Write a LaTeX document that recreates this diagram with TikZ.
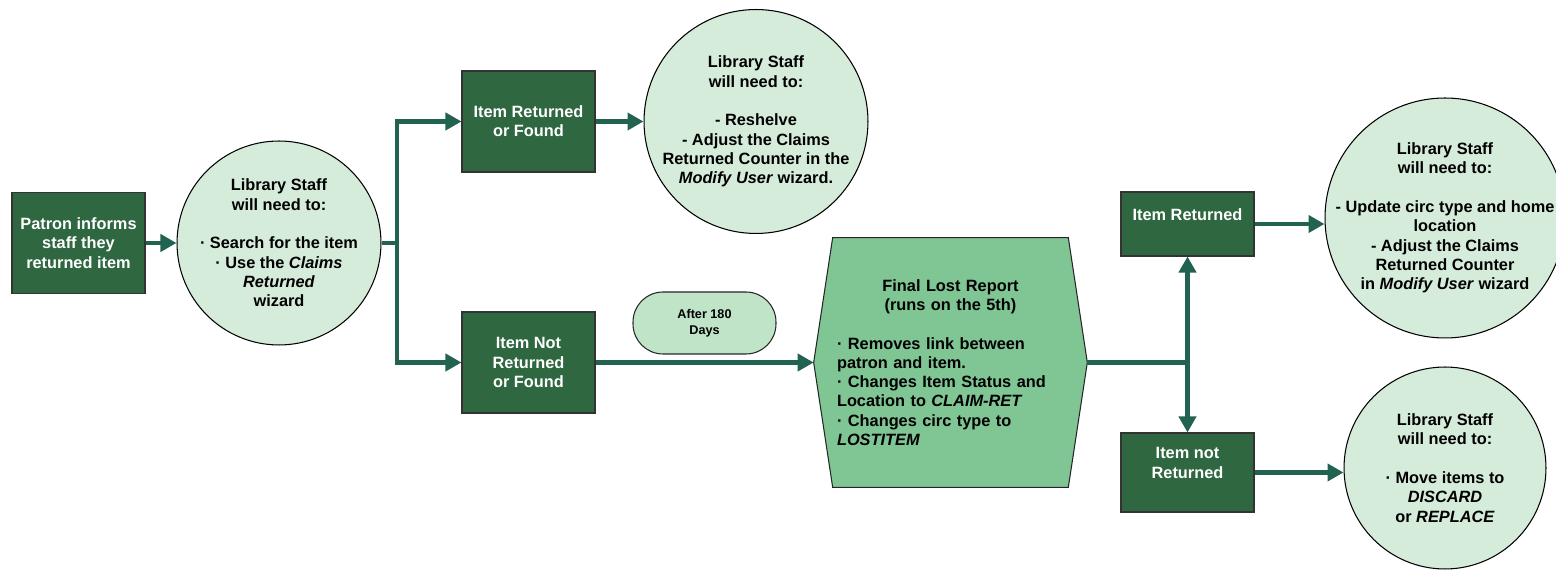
\documentclass[tikz,border=0pt]{standalone}
\usepackage{fontspec}
\setmainfont{Liberation Sans}
\usetikzlibrary{shapes,backgrounds}
\usetikzlibrary{arrows.meta}

\definecolor{boxgreen}{RGB}{46,103,64}
\definecolor{linegreen}{RGB}{33,99,80}
\definecolor{palegreen}{RGB}{214,236,218}
\definecolor{pillgreen}{RGB}{192,228,200}
\definecolor{hexgreen}{RGB}{128,197,148}

\tikzset{
  every node/.style={font=\bfseries\fontsize{9.3}{11}\selectfont, align=center},
  darkbox/.style={rectangle, draw=black!80, line width=0.6pt, fill=boxgreen, text=white,
    minimum width=2.66cm, minimum height=2.02cm, inner sep=0pt},
  staff/.style={circle, draw=black, line width=0.6pt, fill=palegreen, inner sep=-0.6cm},
  pill/.style={rectangle, rounded corners=0.6cm, draw=black!85, line width=0.6pt, fill=pillgreen,
    minimum width=2.86cm, minimum height=1.24cm, inner sep=0pt,
    font=\bfseries\fontsize{7.2}{9}\selectfont},
  lostbox/.style={text width=4.54cm, align=left, minimum width=4.7cm, minimum height=4.98cm, inner sep=0pt},
  hexedge/.style={draw=black!85, line width=0.6pt, fill=hexgreen},
  flow/.style={draw=linegreen, line width=2.8pt}
}

\begin{document}
\begin{tikzpicture}[x=0.02cm, y=-0.02cm, >={Triangle[length=0.32cm,width=0.34cm]}]
\useasboundingbox (0,0) rectangle (1556,573);

\node [darkbox] (patron) at (78.5,243) {Patron informs\\staff they\\returned item};
\node [staff, minimum size=4.08cm] (libA) at (279,243) {Library Staff\\will need to:\\[11pt]· Search for the item\\· Use the \textit{Claims}\\\textit{Returned}\\wizard};
\node [darkbox] (found) at (528.5,121.5) {Item Returned\\or Found};
\node [staff, minimum size=4.48cm] (libB) at (756,121.5) {Library Staff\\will need to:\\[11pt]- Reshelve\\- Adjust the Claims\\Returned Counter in the\\\textit{Modify User} wizard.};
\node [darkbox] (notfound) at (528.5,362.5) {Item Not\\Returned\\or Found};
\node [pill] (days) at (704.5,323) {After 180\\Days};
\node [lostbox] (lost) at (950.5,362.5) {\makebox[\hsize]{Final Lost Report}\\\makebox[\hsize]{(runs on the 5th)}\\[11pt]· Removes link between\\patron and item.\\· Changes Item Status and\\Location to \textit{CLAIM-RET}\\· Changes circ type to\\\textit{LOSTITEM}};
\coordinate (lostW) at ([xshift=-0.38cm]lost.west);
\coordinate (lostE) at ([xshift=0.38cm]lost.east);
\begin{scope}[on background layer]
\draw [hexedge] (lost.north west) -- (lost.north east) -- (lostE) -- (lost.south east) -- (lost.south west) -- (lostW) -- cycle;
\end{scope}
\node [darkbox, minimum height=1.28cm] (itemret) at (1187.5,224) {Item Returned\\\mbox{}};
\node [darkbox, minimum height=1.58cm] (itemnot) at (1187.5,472.5) {Item not\\Returned\\\mbox{}};
\node [staff, minimum size=4.8cm] (libC) at (1445,218) {Library Staff\\will need to:\\[11pt]- Update circ type and home\\location\\- Adjust the Claims\\Returned Counter\\in \textit{Modify User} wizard};
\node [staff, minimum size=4.04cm] (libD) at (1445,468) {Library Staff\\will need to:\\[11pt]· Move items to\\\textit{DISCARD}\\or \textit{REPLACE}};

\draw [flow,->] (patron) -- (libA);
\coordinate (branch) at (397,243);
\draw [flow] (libA.east) -- (branch);
\draw [flow,->] (branch) |- (found.west);
\draw [flow,->] (branch) |- (notfound.west);
\draw [flow,->] (found) -- (libB);
\draw [flow,->] (notfound) -- (lostW);
\coordinate (fork) at (1187.5,362.5);
\draw [flow] (lostE) -- (fork);
\draw [flow,->] (fork) -- (itemret);
\draw [flow,->] (fork) -- (itemnot);
\draw [flow,->] (itemret.east) -- (itemret.east -| libC.west);
\draw [flow,->] (itemnot.east) -- (itemnot.east -| libD.west);
\end{tikzpicture}
\end{document}
